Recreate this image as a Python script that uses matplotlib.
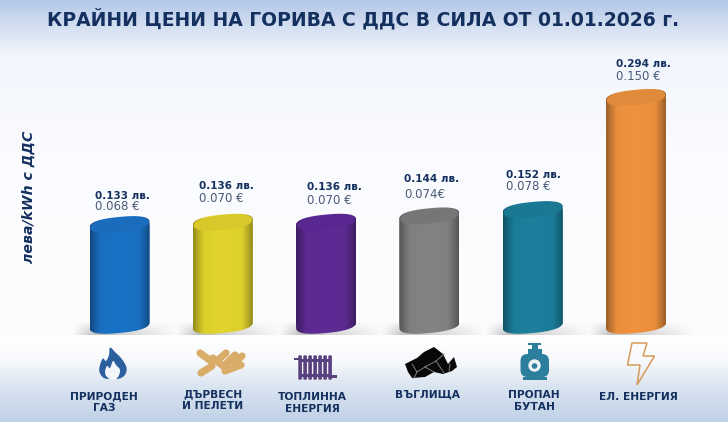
import numpy as np
import matplotlib
matplotlib.use("Agg")
import matplotlib.pyplot as plt
from matplotlib.path import Path
from matplotlib.patches import PathPatch, Polygon, Rectangle, Circle, FancyBboxPatch
from matplotlib.colors import to_rgb

# ---------- data ----------
categories = [["ПРИРОДЕН", "ГАЗ"], ["ДЪРВЕСН", "И ПЕЛЕТИ"], ["ТОПЛИННА", "ЕНЕРГИЯ"],
              ["ВЪГЛИЩА"], ["ПРОПАН", "БУТАН"], ["ЕЛ. ЕНЕРГИЯ"]]
values_bgn = [0.133, 0.136, 0.136, 0.144, 0.152, 0.294]
labels_bgn = ["0.133 лв.", "0.136 лв.", "0.136 лв.", "0.144 лв.", "0.152 лв.", "0.294 лв."]
labels_eur = ["0.068 €", "0.070 €", "0.070 €", "0.074€", "0.078 €", "0.150 €"]
title = "КРАЙНИ ЦЕНИ НА ГОРИВА С ДДС В СИЛА ОТ 01.01.2026 г."
ylabel = "лева/kWh с ДДС"

# ---------- style ----------
W, H = 728, 422
colors = ["#1a72c6", "#e2d42c", "#5e2b94", "#838383", "#1c7f9c", "#f0923f"]
top_colors = ["#1b6cbc", "#d8c82b", "#582890", "#767676", "#1a7892", "#e08a3c"]
navy = "#14305f"
font = "DejaVu Sans"
PX0, PXS = 119.5, 103.3     # px of first category, px per category
PY0, PYS = 330.0, 790.0     # px of value 0, px per unit
BASE = 5 / PYS              # the cylinders stand slightly above the value origin
BAR_W = 60 / PXS
ELL = 8.0 / PYS
TILT = 2.8 / PYS
SUPER = 2.5
label_xy = [(95, 196, 207), (199, 186, 199), (307, 187, 200), (404, 179, 195), (506, 175, 187), (616, 64, 77)]
cat_xy = [(104, 396), (213, 394), (312, 397), (428, 395), (534, 395), (638, 397)]
LINE = 12

fig = plt.figure(figsize=(W / 100, H / 100), dpi=100)
bg = fig.add_axes([0, 0, 1, 1])
bg.set_xlim(0, W); bg.set_ylim(H, 0); bg.axis("off")

# background
stops = [(0, "#b4c8e8"), (30, "#d8e2f3"), (55, "#f1f5fc"), (150, "#fafbfe"), (335, "#fdfdfe"),
         (336, "#ffffff"), (362, "#f6f8fb"), (385, "#dbe5f1"), (422, "#bfd0e6")]
sy = [s[0] for s in stops]
sc = np.array([to_rgb(s[1]) for s in stops])
grad = np.stack([np.interp(np.arange(H), sy, sc[:, k]) for k in range(3)], axis=1)[:, None, :]
bg.imshow(grad, extent=(0, W, H, 0), aspect="auto", zorder=0)

ax = fig.add_axes([0, 0, 1, 1], zorder=2)
ax.patch.set_alpha(0)
ax.axis("off")
xlim = ((0 - PX0) / PXS, (W - PX0) / PXS)
ylim = ((PY0 - H) / PYS, PY0 / PYS)


def arc(x, y, t, sx=1.0, sy=1.0):
    c = np.sign(np.cos(t)) * np.abs(np.cos(t)) ** (2 / SUPER)
    s = np.sign(np.sin(t)) * np.abs(np.sin(t)) ** (2 / SUPER)
    return np.c_[x + sx * BAR_W / 2 * c, y + sy * ELL * s + TILT * c]


def cyl_path(x, v):
    top = arc(x, v, np.linspace(np.pi, 0, 60))
    bot = arc(x, BASE, np.linspace(0, -np.pi, 60))
    return Path(np.r_[top, bot, top[:1]], closed=True)


def top_path(x, v):
    return Path(arc(x, v, np.linspace(0, 2 * np.pi, 120), 0.97, 0.9), closed=True)


prof_x = np.linspace(0, 1, 128)
shade = 0.64 + 0.34 * np.clip(np.sin(np.pi * prof_x) * 1.8, 0, 1) ** 0.9 \
    + 0.02 * np.exp(-((prof_x - 0.5) / 0.18) ** 2)
for i, v in enumerate(values_bgn):
    c = np.array(to_rgb(colors[i]))
    cx = PX0 + i * PXS
    # floor shadow: sharp lower edge at y = 335, fading upward and to both ends
    sh = np.zeros((14, 110, 4))
    xx = np.linspace(0, 1, 110)
    a = np.where(xx < 0.22, xx / 0.22, ((1 - xx) / 0.78) ** 0.9)
    for r in range(14):
        sh[r, :, :3] = 0.5
        sh[r, :, 3] = 0.5 * a * (r / 13) ** 0.8
    bg.imshow(sh, extent=(cx - 48, cx + 58, 335, 321), aspect="auto", zorder=1)

    path = cyl_path(i, v)
    clip = PathPatch(path, fc="none", ec="none", transform=ax.transData)
    ax.add_patch(clip)
    bar = ax.bar(i, v - BASE, bottom=BASE, width=BAR_W, color=colors[i], zorder=3)[0]
    bar.set_clip_path(clip)
    img = np.clip(c[None, None, :] * shade[None, :, None], 0, 1)
    im = ax.imshow(img, extent=(i - BAR_W / 2, i + BAR_W / 2, BASE - 2 * ELL, v + 2 * ELL),
                   aspect="auto", zorder=4, interpolation="bilinear")
    im.set_clip_path(clip)
    ax.add_patch(PathPatch(top_path(i, v), fc=top_colors[i], ec="none", zorder=5))

    lx, y1, y2 = label_xy[i]
    ax.text((lx - PX0) / PXS, (PY0 - y1) / PYS, labels_bgn[i], fontsize=7.5, fontweight="bold",
            color=navy, family=font, ha="left", va="center", zorder=6)
    ax.text((lx - PX0) / PXS, (PY0 - y2) / PYS, labels_eur[i], fontsize=8.5,
            color="#4a5a78", family=font, ha="left", va="center", zorder=6)
    tx, ty = cat_xy[i]
    for k, line in enumerate(categories[i]):
        ax.text((tx - PX0) / PXS, (PY0 - ty - k * LINE) / PYS, line, fontsize=7.7, fontweight="bold",
                color=navy, family=font, ha="center", va="center", zorder=6)

ax.set_xlim(*xlim); ax.set_ylim(*ylim)

bg.text(363.5, 19, title, fontsize=13.5, fontweight="bold", color=navy, family=font,
        ha="center", va="center", zorder=6)
bg.text(29, 197, ylabel, fontsize=10.2, fontweight="bold", style="italic", color=navy, family=font,
        rotation=90, ha="center", va="center", zorder=6)


# ---------- icons (decoration, in pixel coordinates) ----------
def smooth(pts, n=12):
    p = np.array(pts, float); out = []
    m = len(p)
    for i in range(m):
        p0, p1, p2, p3 = p[i - 1], p[i], p[(i + 1) % m], p[(i + 2) % m]
        for t in np.linspace(0, 1, n, endpoint=False):
            out.append(0.5 * (2 * p1 + (p2 - p0) * t + (2 * p0 - 5 * p1 + 4 * p2 - p3) * t ** 2
                              + (3 * p1 - p0 - 3 * p2 + p3) * t ** 3))
    return np.array(out)


# flame
bg.add_patch(Polygon(smooth([(110, 347.5), (115, 352), (121, 358), (126, 366), (126, 373), (121, 378), (113, 379),
                             (104, 378), (99.5, 372), (100, 365), (103, 358.5), (106, 361), (109, 355)]),
                     fc="#2b5f9e", ec="none", zorder=3))
bg.add_patch(Polygon(smooth([(113, 361), (116, 365), (120, 370), (118, 377), (113, 380), (107, 377), (105, 372),
                             (107, 366), (110, 368)]), fc="#f3f6fb", ec="none", zorder=4))

# pellets
pel = "#d9ad68"
for (x0, y0, x1, y1) in [(200, 353, 211, 361), (213, 358, 223, 366), (201, 373, 212, 366),
                         (226, 353, 217, 361), (242, 356, 234, 363), (225, 371, 241, 365), (226, 364, 235, 355)]:
    bg.plot([x0, x1], [y0, y1], color=pel, lw=5.2, solid_capstyle="round", zorder=3)

# radiator
rad = "#59407f"
bg.add_patch(Rectangle((294, 357.5), 6, 2.5, fc=rad, ec="none", zorder=3))
bg.add_patch(Rectangle((331, 375), 6, 2.5, fc=rad, ec="none", zorder=3))
for x in np.arange(298.5, 331, 5):
    bg.add_patch(FancyBboxPatch((x, 355.5), 3.2, 24, boxstyle="round,pad=0.2,rounding_size=1.2",
                                fc=rad, ec="none", zorder=3))
bg.add_patch(Rectangle((298.5, 359), 31, 3, fc=rad, ec="none", zorder=3))
bg.add_patch(Rectangle((298.5, 374), 31, 3, fc=rad, ec="none", zorder=3))

# coal
coal = [(405, 364), (417, 358), (424, 352), (434, 347), (443, 354), (448, 364), (454, 357), (457, 367),
        (452, 371), (443, 374), (434, 372), (425, 377), (412, 378), (408, 372)]
bg.add_patch(Polygon(coal, fc="#080808", ec="none", zorder=3))
for a, b in [((412, 364), (417, 372)), ((417, 372), (425, 367)), ((425, 367), (436, 361)), ((436, 361), (444, 354)),
             ((425, 367), (434, 372)), ((436, 361), (444, 373)), ((450, 364), (449, 371)), ((417, 372), (414, 378))]:
    bg.plot([a[0], b[0]], [a[1], b[1]], color="#7d7d7d", lw=0.7, zorder=4)

# propane
teal = "#2c7f9c"
bg.add_patch(FancyBboxPatch((520.5, 354), 28.5, 23, boxstyle="round,pad=0,rounding_size=7", fc=teal, ec="none", zorder=3))
bg.add_patch(Rectangle((523, 377), 23.5, 3, fc=teal, ec="none", zorder=3))
bg.add_patch(Rectangle((527.5, 348.5), 14, 6, fc=teal, ec="none", zorder=3))
bg.add_patch(Rectangle((531.5, 344), 6, 5, fc=teal, ec="none", zorder=3))
bg.add_patch(Rectangle((528, 342.5), 13, 2.5, fc=teal, ec="none", zorder=3))
bg.add_patch(Circle((534.5, 365.5), 6.2, fc="#eef3f8", ec="none", zorder=4))
bg.add_patch(Circle((534.5, 366), 2.8, fc=teal, ec="none", zorder=5))

# lightning
bolt = [(632, 343), (647, 343), (643, 356), (654.5, 356), (637, 385), (640, 365), (627.5, 365)]
bg.add_patch(Polygon(bolt, fc="none", ec="#d89a5a", lw=1.1, joinstyle="miter", zorder=3))

fig.savefig("out.png", dpi=100)
